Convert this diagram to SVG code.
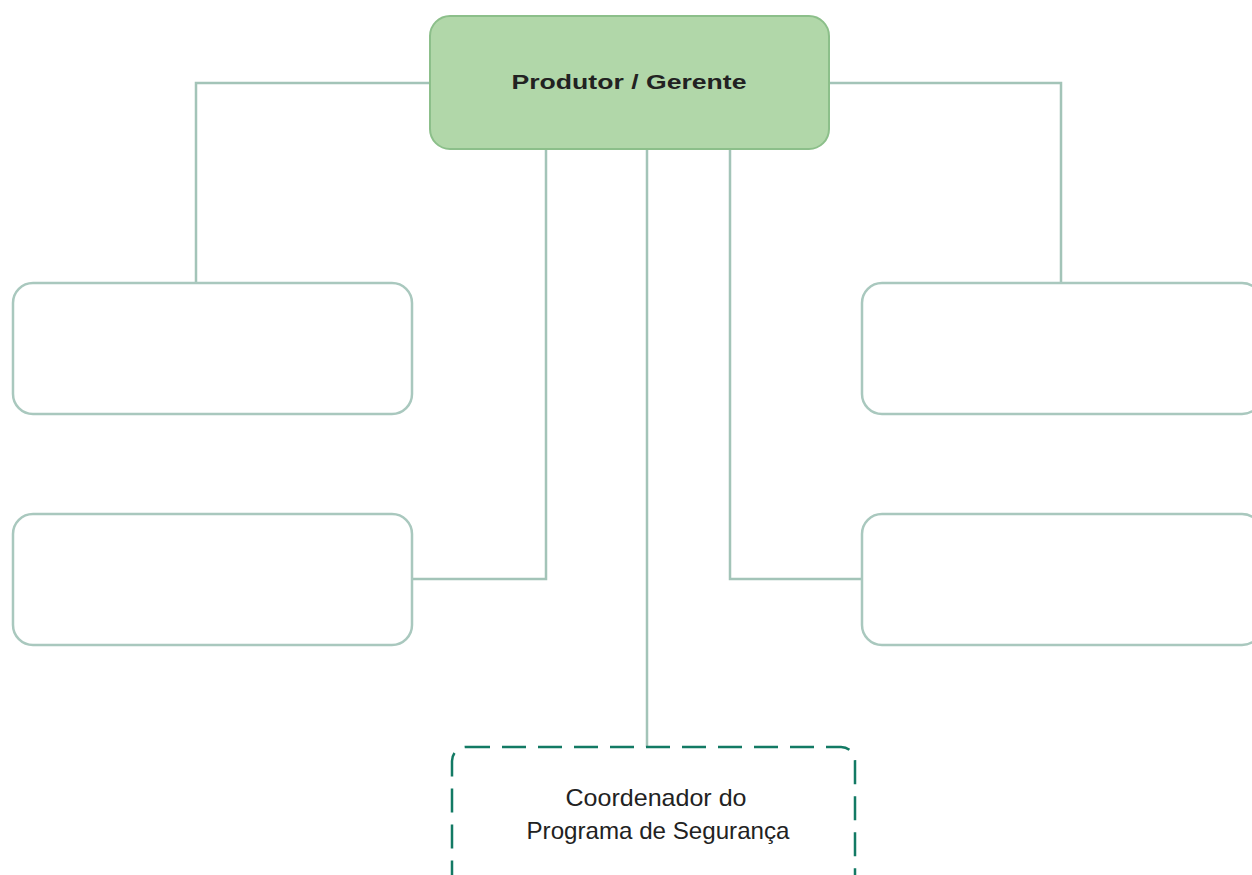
<svg xmlns="http://www.w3.org/2000/svg" width="1252" height="875" viewBox="0 0 1252 875">
<style>
.box{fill:#ffffff;stroke:#a9c8be;stroke-width:2.5}
.con{fill:none;stroke:#a3c4b8;stroke-width:2.5}
.t{font-family:"Liberation Sans",Arial,sans-serif;fill:#222}
</style>
<rect width="1252" height="875" fill="#ffffff"/>
<g id="connectors">
<polyline class="con" points="431,83 196,83 196,283"/>
<polyline class="con" points="829,83 1061,83 1061,283"/>
<polyline class="con" points="546,149 546,579 412,579"/>
<polyline class="con" points="730,149 730,579 862,579"/>
<line class="con" x1="647" y1="149" x2="647" y2="747"/>
</g>
<g id="produtor">
<rect x="430" y="16" width="399" height="133" rx="20" fill="#b1d7a9" stroke="#8cbf8a" stroke-width="2"/>
<text class="t" x="629" y="89" font-size="21" font-weight="bold" text-anchor="middle" textLength="235" lengthAdjust="spacingAndGlyphs" fill="#2a3a2a">Produtor / Gerente</text>
</g>
<g id="left1"><rect class="box" x="13" y="283" width="399" height="131" rx="20"/></g>
<g id="left2"><rect class="box" x="13" y="514" width="399" height="131" rx="20"/></g>
<g id="right1"><rect class="box" x="862" y="283" width="400" height="131" rx="20"/></g>
<g id="right2"><rect class="box" x="862" y="514" width="400" height="131" rx="20"/></g>
<g id="coordenador">
<rect x="452" y="747" width="403" height="150" rx="14" fill="#ffffff" stroke="#137a64" stroke-width="2.5" stroke-dasharray="24 12"/>
<text class="t" x="656" y="806" font-size="24" text-anchor="middle" textLength="181" lengthAdjust="spacingAndGlyphs">Coordenador do</text>
<text class="t" x="658" y="839" font-size="24" text-anchor="middle" textLength="263" lengthAdjust="spacingAndGlyphs">Programa de Segurança</text>
</g>
</svg>
